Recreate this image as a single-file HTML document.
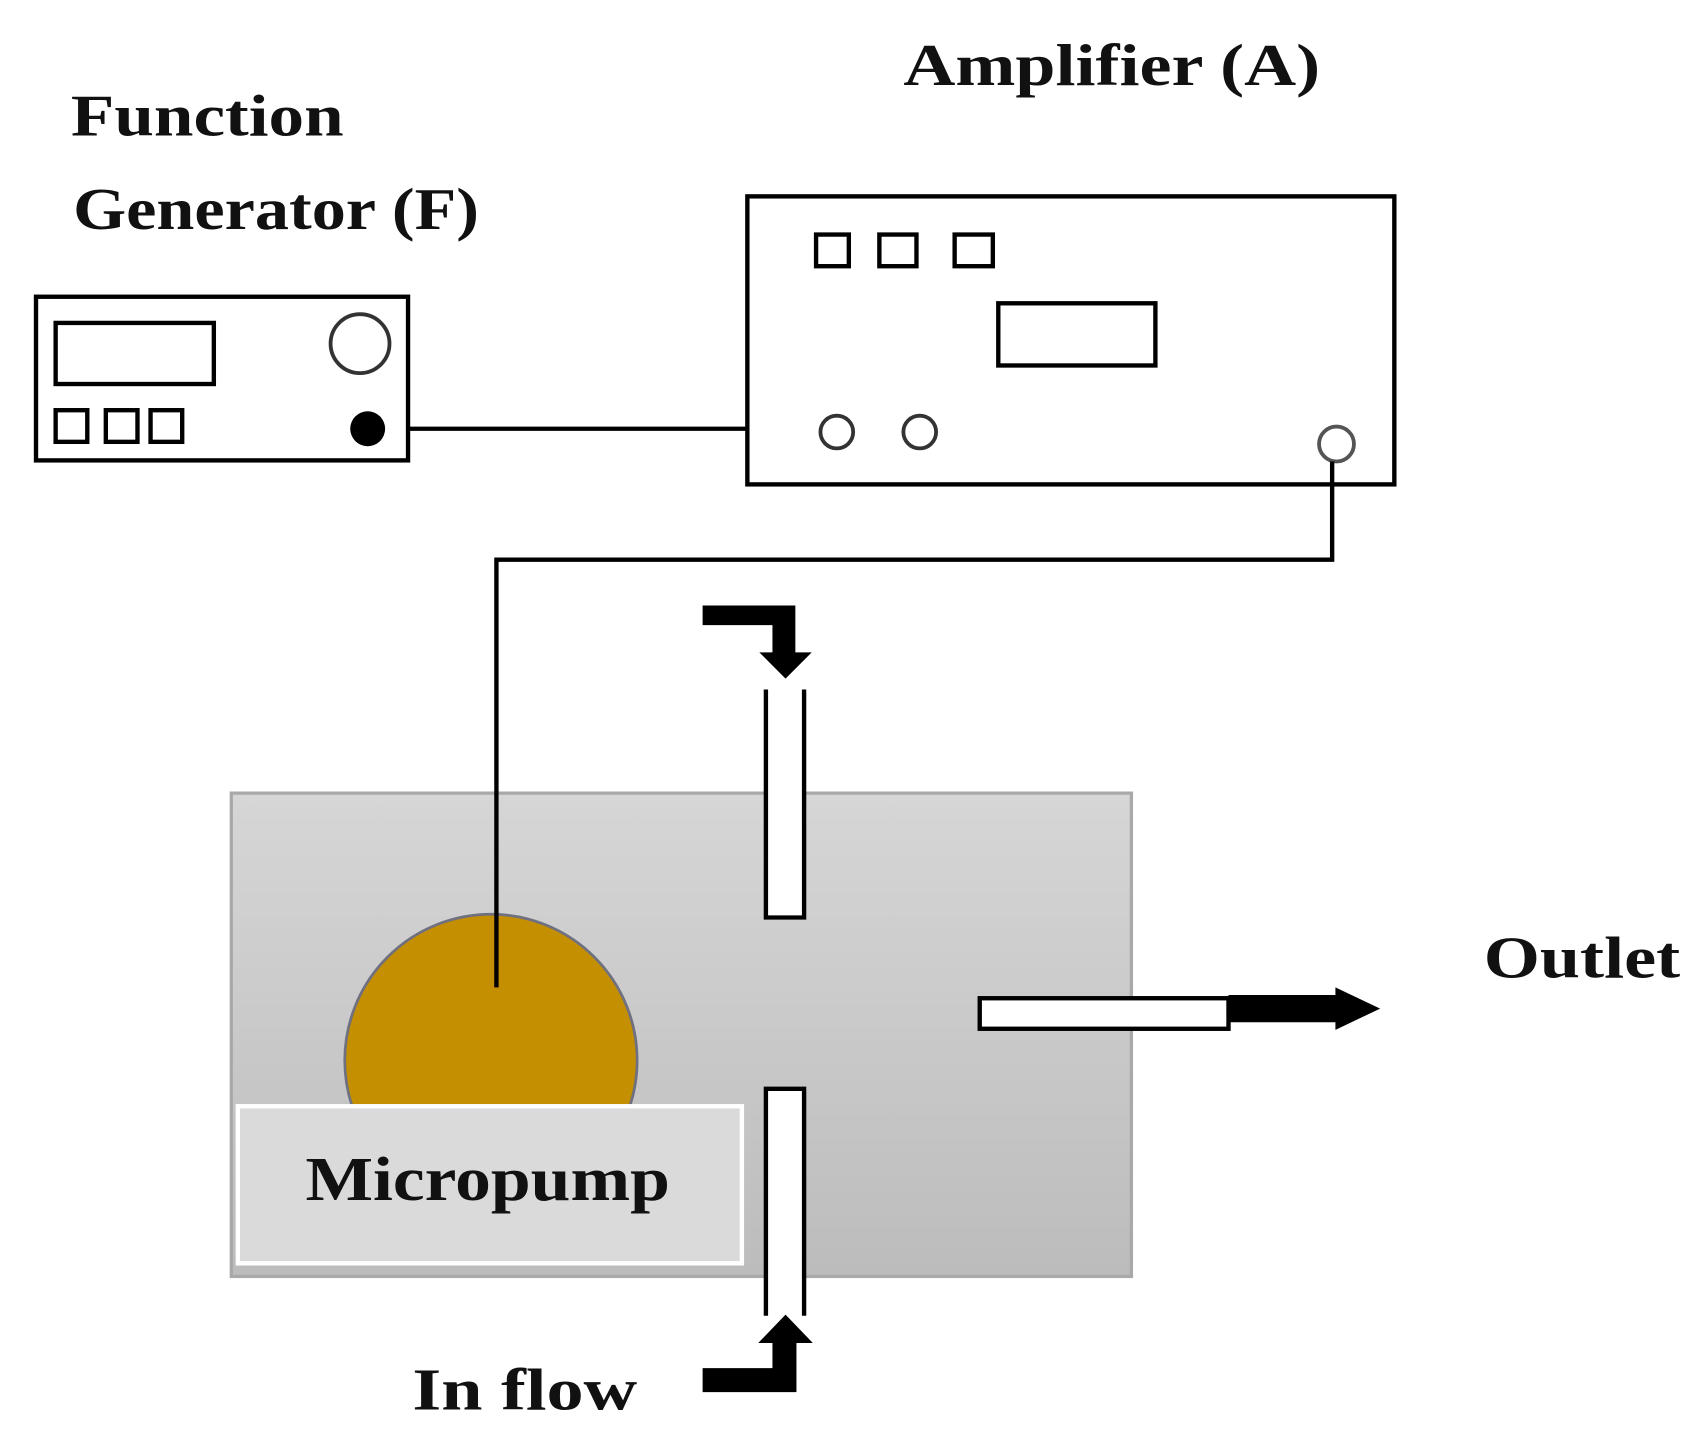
<!DOCTYPE html>
<html><head><meta charset="utf-8"><style>
html,body{margin:0;padding:0;background:#fff}
svg{display:block}
text{font-family:"Liberation Serif",serif;font-weight:bold;fill:#111}
</style></head><body>
<svg width="1702" height="1432" viewBox="0 0 1560 1312.6" preserveAspectRatio="none" xmlns="http://www.w3.org/2000/svg">
<defs>
<linearGradient id="g" x1="0" y1="0" x2="0" y2="1">
<stop offset="0" stop-color="#d6d6d6"/><stop offset="1" stop-color="#bcbcbc"/>
</linearGradient>
<clipPath id="c"><rect x="0" y="0" width="1560" height="1013"/></clipPath>
</defs>
<text x="65" y="124" font-size="54" textLength="250" lengthAdjust="spacingAndGlyphs">Function</text>
<text x="67" y="210" font-size="54" textLength="372" lengthAdjust="spacingAndGlyphs">Generator (F)</text>
<text x="828" y="78" font-size="54" textLength="382" lengthAdjust="spacingAndGlyphs">Amplifier (A)</text>

<!-- Function generator -->
<rect x="33" y="272" width="341" height="150" fill="#fff" stroke="#000" stroke-width="4"/>
<rect x="51" y="296" width="145" height="56" fill="none" stroke="#000" stroke-width="4"/>
<circle cx="330" cy="315" r="27" fill="none" stroke="#333" stroke-width="3.5"/>
<rect x="51" y="376" width="29" height="29" fill="none" stroke="#000" stroke-width="4"/>
<rect x="97" y="376" width="29" height="29" fill="none" stroke="#000" stroke-width="4"/>
<rect x="138" y="376" width="29" height="29" fill="none" stroke="#000" stroke-width="4"/>
<circle cx="337" cy="393" r="16" fill="#000"/>
<line x1="374" y1="393" x2="686" y2="393" stroke="#000" stroke-width="4"/>

<!-- Amplifier -->
<rect x="685" y="180" width="593" height="264" fill="#fff" stroke="#000" stroke-width="4"/>
<rect x="748" y="215" width="30" height="29" fill="none" stroke="#000" stroke-width="4"/>
<rect x="806" y="215" width="34" height="29" fill="none" stroke="#000" stroke-width="4"/>
<rect x="875" y="215" width="35" height="29" fill="none" stroke="#000" stroke-width="4"/>
<rect x="915" y="278" width="144" height="57" fill="none" stroke="#000" stroke-width="4"/>
<circle cx="767" cy="396" r="15" fill="none" stroke="#333" stroke-width="3.5"/>
<circle cx="843" cy="396" r="15" fill="none" stroke="#333" stroke-width="3.5"/>
<circle cx="1225" cy="407" r="16" fill="none" stroke="#555" stroke-width="3.5"/>

<!-- chamber -->
<rect x="212" y="727" width="825" height="443" fill="url(#g)" stroke="#a9a9a9" stroke-width="3"/>
<circle cx="450" cy="972" r="134" fill="#c48f00" stroke="#6f7080" stroke-width="2.5" clip-path="url(#c)"/>
<rect x="218" y="1014" width="462" height="144" fill="#dadada" stroke="#fff" stroke-width="4"/>
<text x="280" y="1100" font-size="57" textLength="334" lengthAdjust="spacingAndGlyphs">Micropump</text>

<!-- wire -->
<polyline points="1221,423 1221,513 455,513 455,905" fill="none" stroke="#000" stroke-width="4"/>

<!-- tubes -->
<path d="M702,632 V841 H737 V632" fill="#fff" stroke="#000" stroke-width="4"/>
<path d="M702,1206 V998 H737 V1206" fill="#fff" stroke="#000" stroke-width="4"/>
<rect x="898" y="915" width="228" height="28" fill="#fff" stroke="#000" stroke-width="4"/>

<!-- arrows -->
<path d="M644,555 H729 V598 H744 L720,622 L696,598 H708 V573 H644 Z" fill="#000"/>
<path d="M644,1276 H730 V1231 H745 L720,1205 L695,1231 H708 V1254 H644 Z" fill="#000"/>
<path d="M1126,912 H1224 V905 L1265,924.5 L1224,944 V937 H1126 Z" fill="#000"/>

<text x="1360" y="896" font-size="54" textLength="180" lengthAdjust="spacingAndGlyphs">Outlet</text>
<text x="378" y="1292" font-size="54" textLength="206" lengthAdjust="spacingAndGlyphs">In flow</text>
</svg>
</body></html>
